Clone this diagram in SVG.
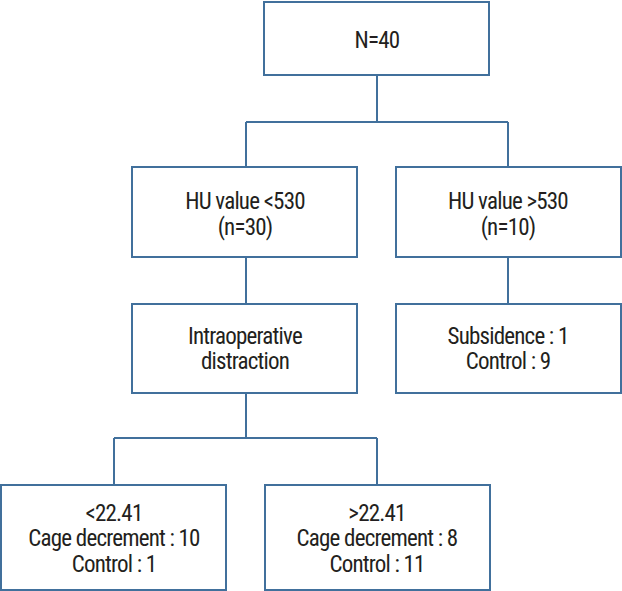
<svg xmlns="http://www.w3.org/2000/svg" width="622" height="591" viewBox="0 0 622 591">
<style>
.box{fill:#fff;stroke:#41709c;stroke-width:2}
.ln{fill:none;stroke:#41709c;stroke-width:2}
text{font-family:"Roboto Condensed","Liberation Sans Narrow","Arial Narrow","Liberation Sans",sans-serif;font-size:23px;letter-spacing:-0.8px;fill:#231f20;text-anchor:middle}
</style>
<rect width="622" height="591" fill="#fff"/>
<g id="connectors">
<path class="ln" d="M377 75V122M246 122H508M246 122V167M508 122V167M246 257V304M508 257V304M246 393V438M114 438H377M114 438V485M377 438V485"/>
</g>
<g id="n40"><rect class="box" x="264" y="2" width="225" height="73"/><text x="377" y="48">N=40</text></g>
<g id="hu-low"><rect class="box" x="132" y="167" width="225" height="90"/><text x="245" y="209">HU value &lt;530</text><text x="245" y="235">(n=30)</text></g>
<g id="hu-high"><rect class="box" x="396" y="167" width="225" height="90"/><text x="508" y="209">HU value &gt;530</text><text x="508" y="235">(n=10)</text></g>
<g id="intraop"><rect class="box" x="132" y="304" width="225" height="89"/><text x="245" y="344">Intraoperative</text><text x="245" y="369">distraction</text></g>
<g id="subsidence"><rect class="box" x="396" y="304" width="225" height="89"/><text x="508" y="344">Subsidence : 1</text><text x="508" y="369">Control : 9</text></g>
<g id="low-2241"><rect class="box" x="1" y="485" width="225" height="105"/><text x="114" y="521">&lt;22.41</text><text x="114" y="546">Cage decrement : 10</text><text x="114" y="572">Control : 1</text></g>
<g id="high-2241"><rect class="box" x="265" y="485" width="225" height="105"/><text x="377" y="521">&gt;22.41</text><text x="377" y="546">Cage decrement : 8</text><text x="377" y="572">Control : 11</text></g>
</svg>
